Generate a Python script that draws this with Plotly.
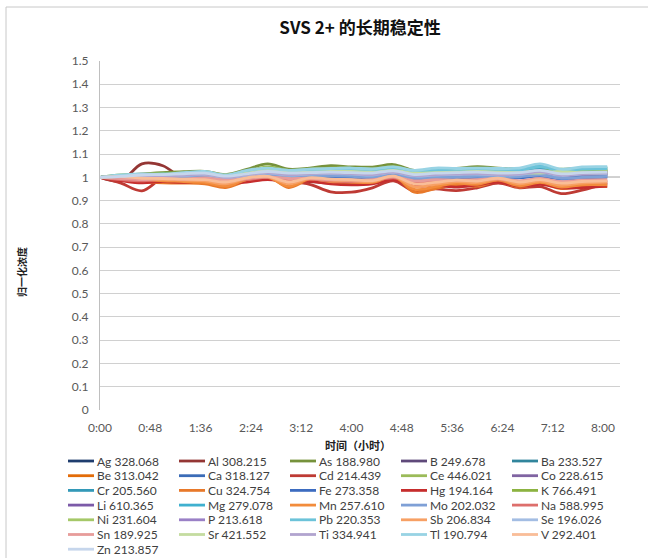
import plotly.graph_objects as go

# ---------------- data ----------------
time_minutes = [0, 20, 40, 60, 80, 100, 120, 140, 160, 180, 200, 220, 240,
                260, 280, 300, 320, 340, 360, 380, 400, 420, 440, 460, 484]
tick_hours = [0, 0.8, 1.6, 2.4, 3.2, 4.0, 4.8, 5.6, 6.4, 7.2, 8.0]
tick_labels = ["0:00", "0:48", "1:36", "2:24", "3:12", "4:00", "4:48",
               "5:36", "6:24", "7:12", "8:00"]
reference_level = 1.0

Ag = [1.000, 1.002, 0.998, 1.004, 1.006, 1.008, 0.996, 1.006, 1.014, 1.008, 1.010, 1.012, 1.014, 1.010, 1.018, 1.006, 1.010, 1.012, 1.014, 1.010, 1.012, 1.016, 1.006, 1.012, 1.014]
Al = [1.000, 0.985, 1.058, 1.050, 0.992, 0.985, 0.980, 0.988, 0.995, 0.988, 0.982, 0.975, 0.978, 0.980, 0.990, 0.972, 0.978, 0.975, 0.980, 0.985, 0.978, 0.985, 0.975, 0.978, 0.980]
As = [1.000, 1.008, 1.015, 1.020, 1.024, 1.026, 1.012, 1.034, 1.058, 1.035, 1.040, 1.050, 1.045, 1.044, 1.055, 1.030, 1.035, 1.038, 1.046, 1.040, 1.036, 1.040, 1.034, 1.040, 1.040]
B = [1.000, 1.003, 1.001, 1.005, 1.003, 1.008, 0.998, 1.005, 1.010, 1.005, 1.008, 1.010, 1.008, 1.006, 1.012, 1.002, 1.006, 1.008, 1.010, 1.006, 1.008, 1.014, 1.004, 1.010, 1.012]
Ba = [1.000, 1.002, 1.005, 1.008, 1.010, 1.012, 1.002, 1.012, 1.020, 1.015, 1.018, 1.020, 1.020, 1.018, 1.022, 1.012, 1.018, 1.016, 1.018, 1.016, 1.018, 1.028, 1.015, 1.022, 1.025]
Be = [1.000, 1.004, 1.010, 1.012, 1.015, 1.018, 1.005, 1.020, 1.030, 1.022, 1.025, 1.028, 1.025, 1.022, 1.030, 1.018, 1.022, 1.025, 1.024, 1.022, 1.020, 1.025, 1.018, 1.022, 1.024]
Ca = [1.000, 0.996, 0.992, 0.996, 1.000, 1.002, 0.990, 1.000, 1.008, 1.002, 1.004, 1.006, 1.004, 1.002, 1.010, 0.998, 1.002, 1.000, 1.004, 1.002, 1.000, 1.008, 0.998, 1.002, 1.004]
Cd = [1.000, 0.975, 0.942, 0.995, 0.988, 0.985, 0.980, 0.985, 0.992, 0.982, 0.970, 0.938, 0.936, 0.955, 0.985, 0.940, 0.950, 0.943, 0.955, 0.975, 0.955, 0.960, 0.930, 0.945, 0.975]
Ce = [1.000, 1.005, 1.010, 1.015, 1.020, 1.022, 1.010, 1.025, 1.045, 1.030, 1.035, 1.040, 1.040, 1.036, 1.046, 1.028, 1.032, 1.034, 1.040, 1.034, 1.032, 1.034, 1.030, 1.032, 1.032]
Co = [1.000, 1.002, 1.004, 1.001, 1.006, 1.010, 0.996, 1.008, 1.015, 1.010, 1.012, 1.015, 1.012, 1.010, 1.018, 1.005, 1.010, 1.010, 1.012, 1.010, 1.010, 1.020, 1.008, 1.012, 1.015]
Cr = [1.000, 1.004, 1.008, 1.006, 1.012, 1.015, 1.000, 1.015, 1.025, 1.018, 1.020, 1.022, 1.025, 1.020, 1.028, 1.015, 1.022, 1.020, 1.022, 1.020, 1.022, 1.035, 1.020, 1.028, 1.030]
Cu = [1.000, 0.998, 0.982, 0.976, 0.975, 0.972, 0.956, 0.985, 1.004, 0.956, 0.990, 0.978, 0.980, 0.975, 1.008, 0.936, 0.952, 0.968, 0.962, 0.982, 0.958, 0.975, 0.952, 0.962, 0.960]
Fe = [1.000, 0.996, 0.993, 0.998, 0.995, 1.000, 0.988, 0.998, 1.005, 0.998, 1.000, 1.002, 1.000, 0.998, 1.005, 0.995, 0.998, 0.996, 1.000, 0.996, 0.998, 1.005, 0.992, 0.998, 1.000]
Hg = [1.000, 0.986, 0.976, 0.982, 0.978, 0.985, 0.975, 0.980, 0.990, 0.980, 0.984, 0.972, 0.968, 0.972, 0.990, 0.962, 0.966, 0.958, 0.968, 0.980, 0.962, 0.970, 0.955, 0.956, 0.962]
K = [1.000, 1.010, 1.012, 1.018, 1.015, 1.020, 1.005, 1.020, 1.040, 1.028, 1.030, 1.035, 1.030, 1.030, 1.040, 1.025, 1.028, 1.030, 1.035, 1.030, 1.028, 1.025, 1.035, 1.028, 1.030]
Li = [1.000, 1.004, 1.008, 1.005, 1.010, 1.012, 1.000, 1.010, 1.020, 1.012, 1.015, 1.018, 1.016, 1.012, 1.022, 1.008, 1.012, 1.014, 1.016, 1.012, 1.014, 1.025, 1.010, 1.015, 1.018]
Mg = [1.000, 1.008, 1.012, 1.010, 1.018, 1.022, 1.005, 1.025, 1.035, 1.025, 1.030, 1.032, 1.035, 1.030, 1.040, 1.025, 1.035, 1.030, 1.035, 1.032, 1.035, 1.050, 1.030, 1.040, 1.042]
Mn = [1.000, 1.000, 0.990, 0.985, 0.982, 0.978, 0.962, 0.990, 1.000, 0.962, 0.992, 0.982, 0.980, 0.978, 1.002, 0.948, 0.960, 0.975, 0.970, 0.988, 0.964, 0.978, 0.958, 0.968, 0.968]
Mo = [1.000, 0.998, 0.996, 1.002, 1.000, 1.005, 0.992, 1.002, 1.008, 1.002, 1.004, 1.006, 1.004, 1.000, 1.008, 0.996, 1.000, 1.000, 1.004, 1.000, 1.002, 1.010, 0.996, 1.000, 1.004]
Na = [1.000, 0.990, 0.985, 0.992, 0.990, 0.995, 0.985, 0.990, 1.000, 0.990, 0.992, 0.985, 0.982, 0.985, 0.998, 0.980, 0.985, 0.982, 0.985, 0.990, 0.980, 0.988, 0.978, 0.982, 0.985]
Ni = [1.000, 1.006, 1.012, 1.010, 1.018, 1.020, 1.008, 1.022, 1.035, 1.025, 1.028, 1.032, 1.030, 1.028, 1.036, 1.022, 1.025, 1.028, 1.030, 1.027, 1.025, 1.022, 1.030, 1.025, 1.025]
P = [1.000, 1.005, 1.010, 1.008, 1.012, 1.015, 1.002, 1.012, 1.022, 1.015, 1.018, 1.020, 1.018, 1.015, 1.025, 1.010, 1.015, 1.016, 1.018, 1.015, 1.016, 1.028, 1.012, 1.018, 1.020]
Pb = [1.000, 1.006, 1.010, 1.015, 1.012, 1.020, 1.008, 1.022, 1.032, 1.022, 1.028, 1.030, 1.030, 1.028, 1.035, 1.020, 1.030, 1.028, 1.030, 1.028, 1.030, 1.045, 1.028, 1.035, 1.038]
Sb = [1.000, 1.002, 0.994, 0.990, 0.988, 0.985, 0.972, 0.995, 1.002, 0.972, 0.995, 0.988, 0.985, 0.982, 1.004, 0.960, 0.970, 0.982, 0.978, 0.992, 0.972, 0.984, 0.966, 0.975, 0.978]
Se = [1.000, 1.002, 1.006, 1.004, 1.008, 1.012, 0.998, 1.010, 1.018, 1.010, 1.014, 1.016, 1.014, 1.010, 1.020, 1.006, 1.010, 1.012, 1.014, 1.010, 1.012, 1.022, 1.008, 1.014, 1.016]
Sn = [1.000, 0.995, 0.990, 0.995, 0.992, 0.998, 0.988, 0.995, 1.002, 0.995, 0.996, 0.990, 0.988, 0.990, 1.002, 0.985, 0.990, 0.988, 0.990, 0.995, 0.985, 0.995, 0.982, 0.988, 0.990]
Sr = [1.000, 1.004, 1.008, 1.012, 1.015, 1.018, 1.005, 1.018, 1.030, 1.020, 1.022, 1.025, 1.025, 1.022, 1.030, 1.018, 1.020, 1.022, 1.025, 1.022, 1.020, 1.018, 1.025, 1.020, 1.020]
Ti = [1.000, 1.003, 1.007, 1.005, 1.010, 1.014, 1.000, 1.012, 1.020, 1.012, 1.016, 1.018, 1.016, 1.012, 1.022, 1.008, 1.012, 1.014, 1.016, 1.012, 1.014, 1.024, 1.010, 1.016, 1.018]
Tl = [1.000, 1.010, 1.015, 1.012, 1.020, 1.025, 1.010, 1.030, 1.040, 1.030, 1.035, 1.038, 1.040, 1.036, 1.045, 1.030, 1.040, 1.038, 1.040, 1.038, 1.040, 1.058, 1.035, 1.045, 1.046]
V = [1.000, 1.003, 0.996, 0.995, 0.992, 0.990, 0.980, 0.998, 1.004, 0.980, 0.998, 0.992, 0.990, 0.986, 1.005, 0.972, 0.978, 0.988, 0.984, 0.996, 0.980, 0.990, 0.975, 0.982, 0.985]
Zn = [1.000, 1.004, 1.010, 1.012, 1.015, 1.018, 1.005, 1.015, 1.025, 1.018, 1.020, 1.022, 1.020, 1.018, 1.028, 1.012, 1.018, 1.020, 1.022, 1.018, 1.020, 1.030, 1.015, 1.020, 1.022]

series_labels = ["Ag 328.068", "Al 308.215", "As 188.980", "B 249.678", "Ba 233.527",
                 "Be 313.042", "Ca 318.127", "Cd 214.439", "Ce 446.021", "Co 228.615",
                 "Cr 205.560", "Cu 324.754", "Fe 273.358", "Hg 194.164", "K 766.491",
                 "Li 610.365", "Mg 279.078", "Mn 257.610", "Mo 202.032", "Na 588.995",
                 "Ni 231.604", "P 213.618", "Pb 220.353", "Sb 206.834", "Se 196.026",
                 "Sn 189.925", "Sr 421.552", "Ti 334.941", "Tl 190.794", "V 292.401",
                 "Zn 213.857"]
series_values = [Ag, Al, As, B, Ba, Be, Ca, Cd, Ce, Co, Cr, Cu, Fe, Hg, K,
                 Li, Mg, Mn, Mo, Na, Ni, P, Pb, Sb, Se, Sn, Sr, Ti, Tl, V, Zn]
series_colors = ["#1f3d6e", "#943634", "#76923c", "#5f497a", "#31859c",
                 "#e36c09", "#3b6cb7", "#be3a34", "#9bbb59", "#8064a2",
                 "#3399b8", "#e8792a", "#3d6cc0", "#c62d2d", "#8cb341",
                 "#7c5aa8", "#3fb0cf", "#f28c3c", "#7fa0d6", "#dd6f6c",
                 "#a5c868", "#9a80c6", "#6cc3d9", "#f7a064", "#a3bde3",
                 "#e79c9a", "#c4dca0", "#b1a4cf", "#98d3e4", "#f9bd98",
                 "#c6d6ec"]

# ---------------- layout geometry (pixels) ----------------
W, H = 648, 558
PL, PR, PT, PB = 100, 620, 61, 410
X_MAX = 8.27
FONT = "Lato, 'Noto Sans CJK SC', sans-serif"
CJK = "'Noto Sans CJK SC', Lato, sans-serif"


def px_x(p):
    return (p - PL) / (PR - PL)


def px_y(p):
    return (PB - p) / (PB - PT)


hours = [m / 60.0 for m in time_minutes]

fig = go.Figure()
for name, vals, col in zip(series_labels, series_values, series_colors):
    fig.add_trace(go.Scatter(
        x=hours, y=vals, mode="lines", name=name,
        line=dict(color=col, width=2.8, shape="spline", smoothing=1.0),
        showlegend=False, hoverinfo="name+y"))

shapes = []
# reference line at normalised level 1
shapes.append(dict(type="line", xref="x", yref="y", x0=0, x1=X_MAX,
                   y0=reference_level, y1=reference_level,
                   line=dict(color="#a6a6a6", width=1.5), layer="below"))
# outer chart border
shapes.append(dict(type="rect", xref="paper", yref="paper",
                   x0=px_x(6), x1=px_x(660), y0=px_y(575), y1=px_y(7),
                   line=dict(color="#c8c8c8", width=1), fillcolor="rgba(0,0,0,0)",
                   layer="below"))

annotations = []
# axis titles
annotations.append(dict(text="<b>时间（小时）</b>", xref="paper", yref="paper",
                        x=px_x(358), y=px_y(445), showarrow=False,
                        xanchor="center", yanchor="middle",
                        font=dict(family=CJK, size=11, color="#222222")))
annotations.append(dict(text="<b>归一化浓度</b>", xref="paper", yref="paper",
                        x=px_x(21), y=px_y(272), showarrow=False, textangle=-90,
                        xanchor="center", yanchor="middle",
                        font=dict(family=CJK, size=10, color="#222222")))

# legend (5 columns, compact rows like the original)
LEG_X0, LEG_Y0, COL_W, ROW_H, SWATCH = 68, 461, 111, 14.7, 26
for i, (name, col) in enumerate(zip(series_labels, series_colors)):
    c, r = i % 5, i // 5
    x0 = LEG_X0 + c * COL_W
    y = LEG_Y0 + r * ROW_H
    shapes.append(dict(type="line", xref="paper", yref="paper",
                       x0=px_x(x0), x1=px_x(x0 + SWATCH), y0=px_y(y), y1=px_y(y),
                       line=dict(color=col, width=2.8)))
    annotations.append(dict(text=name, xref="paper", yref="paper",
                            x=px_x(x0 + SWATCH + 1), y=px_y(y), showarrow=False,
                            xanchor="left", yanchor="middle",
                            font=dict(family=FONT, size=12, color="#404040")))

fig.update_layout(
    width=W, height=H, autosize=False,
    margin=dict(l=PL, r=W - PR, t=PT, b=H - PB, pad=0),
    paper_bgcolor="white", plot_bgcolor="white",
    title=dict(text="<b>SVS 2+ 的长期稳定性</b>", x=360 / W, xref="container",
               xanchor="center", y=1 - 28 / H, yref="container", yanchor="middle",
               font=dict(family=CJK, size=17, color="#111111")),
    xaxis=dict(range=[0, X_MAX], tickvals=tick_hours, ticktext=tick_labels,
               showgrid=False, zeroline=False, showline=False,
               ticks="outside", ticklen=7, tickcolor="rgba(0,0,0,0)",
               tickfont=dict(family=FONT, size=12, color="#595959")),
    yaxis=dict(range=[0, 1.5], tick0=0, dtick=0.1,
               showgrid=True, gridcolor="#d0d0d0", gridwidth=1,
               zeroline=False, showline=True, linecolor="#bfbfbf", linewidth=1,
               ticks="outside", ticklen=8, tickcolor="rgba(0,0,0,0)",
               tickfont=dict(family=FONT, size=12, color="#595959")),
    shapes=shapes, annotations=annotations, showlegend=False,
)

fig.write_html("out.html", config={"displayModeBar": False},
               post_script="document.body.style.margin='0px';")
